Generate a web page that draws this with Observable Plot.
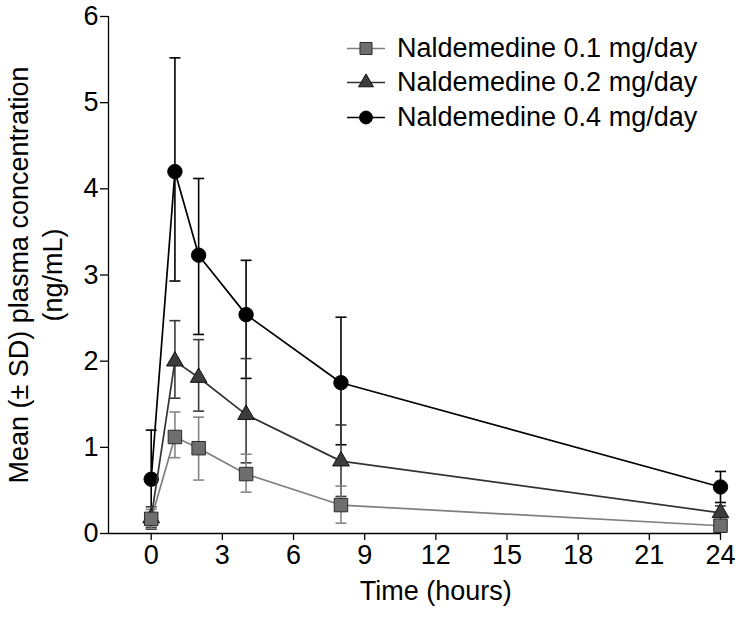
<!DOCTYPE html>
<html>
<head>
<meta charset="utf-8">
<script src="https://cdn.jsdelivr.net/npm/d3@7"></script>
<script src="https://cdn.jsdelivr.net/npm/@observablehq/plot@0.6"></script>
<style>
  body { margin: 0; background: #fff; font-family: "Liberation Sans", Arial, sans-serif; }
  #wrap { position: relative; width: 740px; height: 618px; }
  #legend { position: absolute; left: 345px; top: 31px; }
  .row { display: flex; align-items: center; height: 34.5px; }
  .row span { font-size: 27px; color: #000; margin-left: 10px; white-space: nowrap; }
</style>
</head>
<body>
<div id="wrap"></div>
<script>
// ---- data ----
const times = [0, 1, 2, 4, 8, 24];
const seriesNames = ["Naldemedine 0.1 mg/day", "Naldemedine 0.2 mg/day", "Naldemedine 0.4 mg/day"];
const mean01 = [0.17, 1.12, 0.99, 0.69, 0.33, 0.09];
const lo01   = [0.06, 0.88, 0.62, 0.48, 0.12, 0.04];
const hi01   = [0.28, 1.41, 1.35, 0.92, 0.55, 0.14];
const mean02 = [0.18, 2.00, 1.81, 1.38, 0.84, 0.24];
const lo02   = [0.05, 1.57, 1.42, 0.82, 0.43, 0.14];
const hi02   = [0.31, 2.47, 2.25, 2.03, 1.26, 0.32];
const mean04 = [0.63, 4.20, 3.23, 2.54, 1.75, 0.54];
const lo04   = [0.07, 2.93, 2.31, 1.80, 1.03, 0.36];
const hi04   = [1.20, 5.52, 4.12, 3.17, 2.51, 0.72];
const xTicks = [0, 3, 6, 9, 12, 15, 18, 21, 24];
const yTicks = [0, 1, 2, 3, 4, 5, 6];
const xLabel = "Time (hours)";
const yLabel = "Mean (± SD) plasma concentration\n(ng/mL)";

// ---- styles ----
const styles = [
  {name: seriesNames[0], symbol: "square",   r: 7.6, line: "#7f7f7f", fill: "#6e6e6e", stroke: "#2a2a2a", err: "#858585"},
  {name: seriesNames[1], symbol: "triangle", r: 6.2, line: "#333333", fill: "#3c3c3c", stroke: "#111111", err: "#3a3a3a"},
  {name: seriesNames[2], symbol: "circle",   r: 7.2, line: "#000000", fill: "#000000", stroke: "#000000", err: "#000000"}
];
const means = [mean01, mean02, mean04];
const los = [lo01, lo02, lo04];
const his = [hi01, hi02, hi04];

const capSymbol = {draw(ctx) { ctx.moveTo(-5.5, 0); ctx.lineTo(5.5, 0); }};

const xDomain = [-1.8, 24];
const FS = 27;
const marks = [];

for (let s = 2; s >= 0; s--) {
  const st = styles[s];
  const rows = times.map((t, i) => ({t, lo: los[s][i], hi: his[s][i]}));
  marks.push(Plot.ruleX(rows, {x: "t", y1: "lo", y2: "hi", stroke: st.err, strokeWidth: 1.6}));
  marks.push(Plot.dot(rows, {x: "t", y: "lo", symbol: capSymbol, stroke: st.err, strokeWidth: 1.6, fill: "none"}));
  marks.push(Plot.dot(rows, {x: "t", y: "hi", symbol: capSymbol, stroke: st.err, strokeWidth: 1.6, fill: "none"}));
}
for (let s = 2; s >= 0; s--) {
  const st = styles[s];
  const rows = times.map((t, i) => ({t, v: means[s][i]}));
  marks.push(Plot.line(rows, {x: "t", y: "v", stroke: st.line, strokeWidth: 1.7}));
  marks.push(Plot.dot(rows, {x: "t", y: "v", symbol: st.symbol, r: st.r, fill: st.fill, stroke: st.stroke, strokeWidth: 1}));
}

const plot = Plot.plot({
  width: 740,
  height: 618,
  marginLeft: 108,
  marginRight: 20,
  marginTop: 16,
  marginBottom: 85,
  style: {fontFamily: '"Liberation Sans", Arial, sans-serif', fontSize: FS + "px", color: "#000", background: "#fff", overflow: "visible"},
  x: {domain: xDomain},
  y: {domain: [0, 6]},
  marks: [
    Plot.ruleY([0], {stroke: "#000", strokeWidth: 1.3}),
    Plot.ruleX([xDomain[0]], {stroke: "#000", strokeWidth: 1.3}),
    Plot.axisX({ticks: xTicks, tickFormat: d => String(d), tickSize: 7, tickPadding: 4, fontSize: FS, label: null, stroke: "#000", strokeWidth: 1.3}),
    Plot.axisY({ticks: yTicks, tickFormat: d => String(d), tickSize: 8, tickPadding: 2, fontSize: FS, label: null, stroke: "#000", strokeWidth: 1.3}),
    Plot.text([xLabel], {x: [d3.mean([xTicks[0], xTicks[xTicks.length - 1]])], frameAnchor: "bottom", dy: 66, fontSize: FS, fill: "#000"}),
    Plot.text([yLabel], {frameAnchor: "left", textAnchor: "middle", rotate: -90, dx: -74, lineHeight: 1.25, fontSize: FS, fill: "#000"}),
    ...marks
  ]
});

const wrap = document.getElementById("wrap");
wrap.appendChild(plot);

const legend = document.createElement("div");
legend.id = "legend";
const symMap = {square: d3.symbolSquare, triangle: d3.symbolTriangle, circle: d3.symbolCircle};
styles.forEach(st => {
  const row = document.createElement("div");
  row.className = "row";
  const path = d3.symbol(symMap[st.symbol], Math.PI * st.r * st.r * 0.8)();
  row.innerHTML = `<svg width="42" height="35"><line x1="2" x2="40" y1="17.5" y2="17.5" stroke="${st.line}" stroke-width="1.7"/>` +
    `<path transform="translate(21,17.5)" d="${path}" fill="${st.fill}" stroke="${st.stroke}" stroke-width="1"/></svg>` +
    `<span>${st.name}</span>`;
  legend.appendChild(row);
});
wrap.appendChild(legend);
</script>
</body>
</html>
